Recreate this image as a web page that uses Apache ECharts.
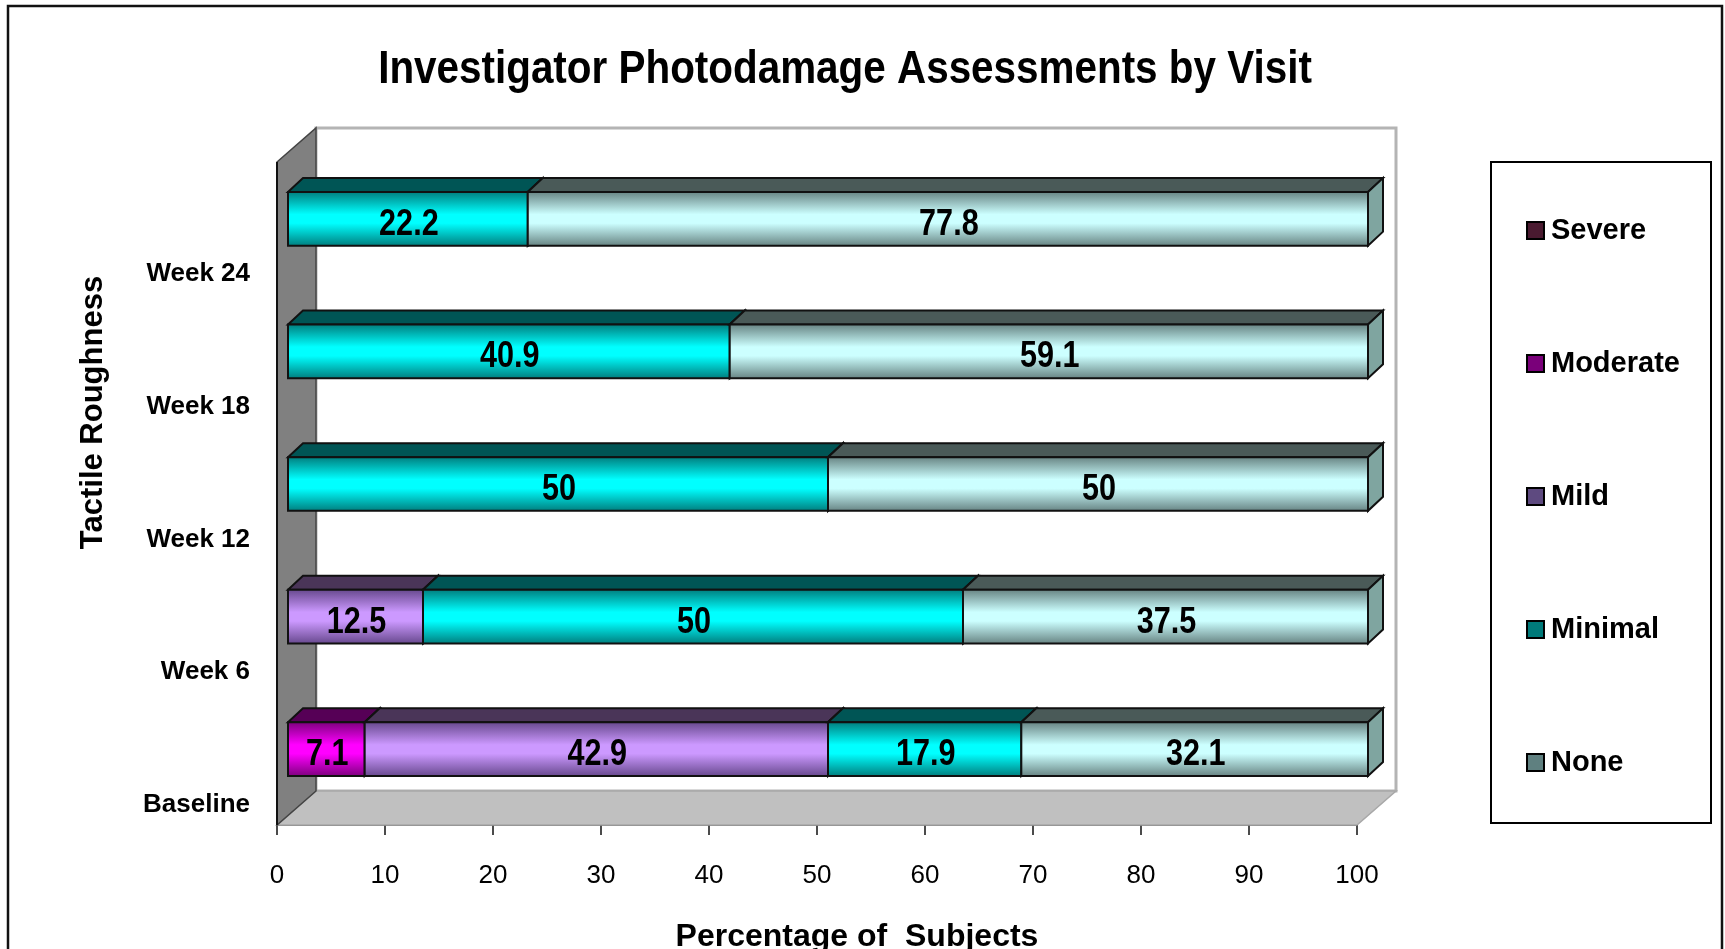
<!DOCTYPE html>
<html>
<head>
<meta charset="utf-8">
<title>Investigator Photodamage Assessments by Visit</title>
<script src="https://cdn.jsdelivr.net/npm/echarts@6/dist/echarts.min.js"></script>
<style>
  html, body { margin: 0; padding: 0; background: #fff; overflow: hidden; }
  #chart { width: 1725px; height: 949px; }
</style>
</head>
<body>
<div id="chart"></div>
<script>
var visits = ['Baseline', 'Week 6', 'Week 12', 'Week 18', 'Week 24'];
var levels = ['Severe', 'Moderate', 'Mild', 'Minimal', 'None'];
var severe = [0, 0, 0, 0, 0];
var moderate = [7.1, 0, 0, 0, 0];
var mild = [42.9, 12.5, 0, 0, 0];
var minimal = [17.9, 50, 50, 40.9, 22.2];
var none = [32.1, 37.5, 50, 59.1, 77.8];
var xTicks = [0, 100, 10];

var font = '"Liberation Sans", sans-serif';

// swatch, dark edge of the bar, bright middle of the bar, top face, end face
var looks = {
  Severe: ['#4a1a30', '#4a1a30', '#80324f', '#30101f', '#40152a'],
  Moderate: ['#7a007a', '#7a007a', '#ff00ff', '#560056', '#6a006a'],
  Mild: ['#5e4a80', '#64468a', '#cc99ff', '#4a3558', '#5e4a80'],
  Minimal: ['#007a7a', '#007a7a', '#00ffff', '#005555', '#007070'],
  None: ['#5f8080', '#64807f', '#ccffff', '#4a5a58', '#7fa5a0']
};

// offset of the bars from the axis plane, and of their top face from the front
var barShift = [11, -9.5];
var barDepth = [15, -14];
var wallDepth = [39, -34];

function stacked(rows) {
  // one row per level, each cell becomes [from, to, visit, value]
  var sums = visits.map(function () { return 0; });
  return rows.map(function (row) {
    return row.map(function (v, i) {
      var from = sums[i];
      sums[i] += v;
      return [from, sums[i], i, v];
    }).filter(function (d) { return d[3] > 0; });
  });
}

function poly(points, fill, stroke) {
  return {
    type: 'polygon',
    shape: { points: points },
    style: { fill: fill, stroke: stroke || '#111', lineWidth: stroke ? 1.5 : 2 }
  };
}

function renderBar(look) {
  return function (params, api) {
    var a = api.coord([api.value(0), api.value(2)]);
    var b = api.coord([api.value(1), api.value(2)]);
    var h = api.size([0, 1])[1] * 0.405;
    var x0 = a[0] + barShift[0];
    var x1 = b[0] + barShift[0];
    var top = a[1] + barShift[1] - h / 2;
    var bot = top + h;
    var dx = barDepth[0];
    var dy = barDepth[1];
    return {
      type: 'group',
      children: [
        poly([[x0, top], [x0 + dx, top + dy], [x1 + dx, top + dy], [x1, top]], look[3]),
        poly([[x1, top], [x1 + dx, top + dy], [x1 + dx, bot + dy], [x1, bot]], look[4]),
        {
          type: 'rect',
          shape: { x: x0, y: top, width: x1 - x0, height: h },
          style: {
            stroke: '#111',
            lineWidth: 2,
            fill: {
              type: 'linear', x: 0, y: 0, x2: 0, y2: 1,
              colorStops: [
                { offset: 0, color: look[1] },
                { offset: 0.42, color: look[2] },
                { offset: 0.58, color: look[2] },
                { offset: 1, color: look[1] }
              ]
            }
          }
        },
        {
          // the source font is a narrow one, so squeeze the text a bit
          type: 'text',
          x: (x0 + x1) / 2 + 1,
          y: (top + bot) / 2 + 6,
          scaleX: 0.85,
          style: {
            text: String(api.value(3)),
            x: 0,
            y: 0,
            align: 'center',
            verticalAlign: 'middle',
            fill: '#000',
            font: 'bold 36px ' + font
          }
        }
      ]
    };
  };
}

function renderWalls(params) {
  var g = params.coordSys;
  var dx = wallDepth[0];
  var dy = wallDepth[1];
  var l = g.x;
  var r = g.x + g.width;
  var t = g.y;
  var b = g.y + g.height;
  return {
    type: 'group',
    children: [
      {
        type: 'rect',
        shape: { x: l + dx, y: t + dy, width: g.width, height: g.height },
        style: { fill: '#fff', stroke: '#b4b4b4', lineWidth: 3 }
      },
      poly([[l, b], [l + dx, b + dy], [r + dx, b + dy], [r, b]], '#c0c0c0', '#a8a8a8'),
      poly([[l, t], [l + dx, t + dy], [l + dx, b + dy], [l, b]], '#808080', '#444'),
      { type: 'line', shape: { x1: l, y1: t, x2: l, y2: b }, style: { stroke: '#111', lineWidth: 2 } }
    ]
  };
}

var rows = stacked([severe, moderate, mild, minimal, none]);

var series = [{
  type: 'custom',
  name: 'walls',
  silent: true,
  z: 1,
  renderItem: renderWalls,
  encode: { x: 0, y: 1 },
  data: [[0, 0]]
}];
levels.forEach(function (name, i) {
  series.push({
    type: 'custom',
    name: name,
    z: 2 + i,
    itemStyle: { color: looks[name][0] },
    renderItem: renderBar(looks[name]),
    encode: { x: [0, 1], y: 2 },
    data: rows[i]
  });
});

var chart = echarts.init(document.getElementById('chart'), null, { renderer: 'canvas' });
chart.setOption({
  animation: false,
  backgroundColor: '#fff',
  grid: { left: 277, top: 162, width: 1080, height: 663, outerBoundsMode: 'none' },
  xAxis: {
    type: 'value',
    min: xTicks[0],
    max: xTicks[1],
    interval: xTicks[2],
    splitLine: { show: false },
    axisLine: { show: true, lineStyle: { color: '#666', width: 2 } },
    axisTick: { show: true, length: 10, lineStyle: { color: '#111', width: 1.5 } },
    axisLabel: { margin: 38, color: '#000', fontFamily: font, fontSize: 26 },
    name: 'Percentage of  Subjects',
    nameLocation: 'middle',
    nameGap: 96,
    nameTextStyle: { fontFamily: font, fontWeight: 'bold', fontSize: 32, color: '#000', padding: [0, 0, 0, 80] }
  },
  yAxis: {
    type: 'category',
    data: visits,
    axisLine: { show: false },
    axisTick: { show: false },
    axisLabel: {
      margin: 27,
      color: '#000',
      fontFamily: font,
      fontWeight: 'bold',
      fontSize: 26,
      verticalAlign: 'top',
      padding: [33, 0, 0, 0]
    },
    name: 'Tactile Roughness',
    nameLocation: 'middle',
    nameGap: 168,
    nameRotate: 90,
    nameTextStyle: { fontFamily: font, fontWeight: 'bold', fontSize: 31, color: '#000', padding: [0, 0, 0, 162] }
  },
  legend: {
    data: levels,
    orient: 'vertical',
    left: 1526,
    top: 216,
    padding: 0,
    icon: 'rect',
    itemWidth: 17,
    itemHeight: 17,
    itemGap: 104,
    selectedMode: false,
    itemStyle: { borderColor: '#000', borderWidth: 2 },
    textStyle: { fontFamily: font, fontWeight: 'bold', fontSize: 29, color: '#000', padding: [0, 0, 0, 2] }
  },
  graphic: [
    {
      type: 'polyline',
      shape: { points: [[8, 949], [8, 6], [1722, 6], [1722, 949]] },
      style: { fill: 'none', stroke: '#111', lineWidth: 2.5 }
    },
    {
      type: 'rect',
      shape: { x: 1491, y: 162, width: 220, height: 661 },
      style: { fill: 'none', stroke: '#000', lineWidth: 2 }
    },
    {
      type: 'text',
      x: 845,
      y: 70,
      scaleX: 0.86,
      style: {
        text: 'Investigator Photodamage Assessments by Visit',
        x: 0,
        y: 0,
        align: 'center',
        verticalAlign: 'middle',
        fill: '#000',
        font: 'bold 47px ' + font
      }
    }
  ],
  series: series
});
</script>
</body>
</html>
